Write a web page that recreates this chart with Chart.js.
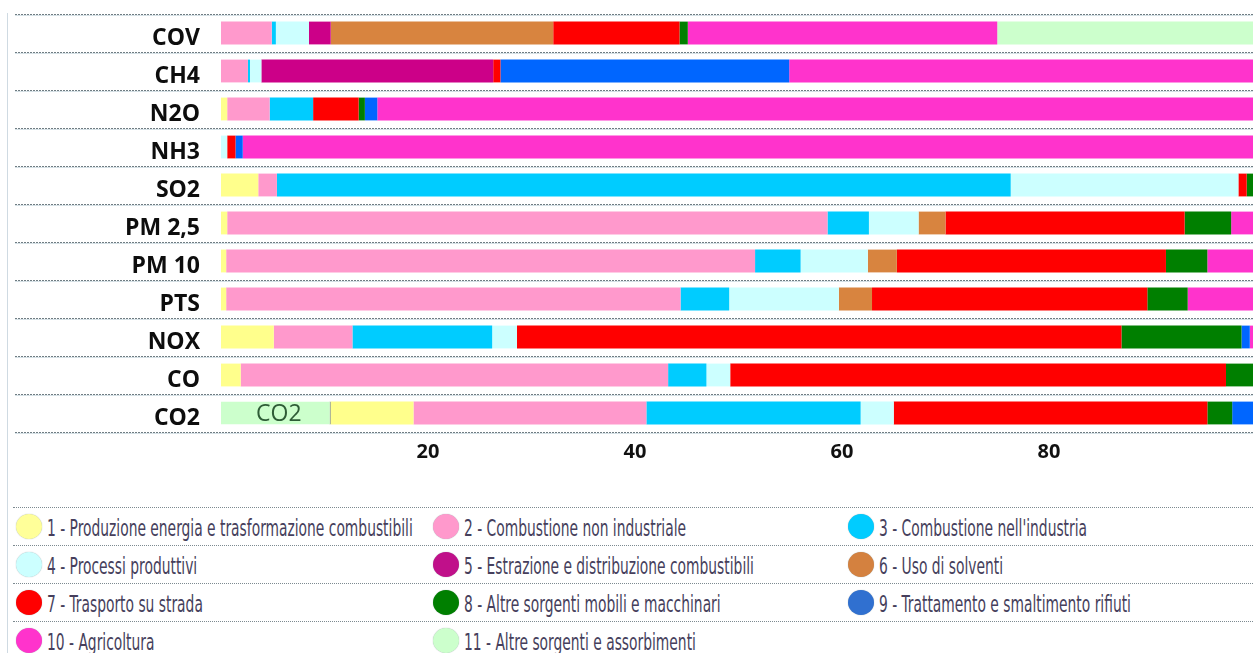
<!DOCTYPE html>
<html>
<head>
<meta charset="utf-8">
<script src="https://cdn.jsdelivr.net/npm/chart.js@4.4.0/dist/chart.umd.min.js"></script>
<style>
  html, body { margin: 0; padding: 0; background: #fff; overflow: hidden; width: 1253px; height: 653px; }
  #wrap { position: absolute; left: 0; top: 0; width: 1256px; height: 475px; }
  #frame { position: absolute; left: 7px; top: 13px; width: 1px; height: 640px; background: #cfdae2; }
  #legend { position: absolute; left: 13px; top: 507px; width: 1240px; }
  .row { display: flex; height: 37px; border-top: 1px dotted #7d8a90; align-items: center; }
  .item { display: flex; align-items: center; flex-shrink: 0; }
  .item:nth-child(1) { width: 417px; }
  .item:nth-child(2) { width: 415px; }
  .dot { flex-shrink: 0; width: 26px; height: 25px; border-radius: 50%; margin-left: 3px; margin-right: 5px; box-shadow: 0 0 1px #99a6aa; }
  .txt { display: inline-block; transform-origin: left center; font-family: 'DejaVu Sans Condensed', sans-serif; font-size: 23px; line-height: 26px; margin-top: 3px; color: #463f5c; white-space: nowrap; }
</style>
</head>
<body>
<div id="frame"></div>
<div id="wrap"><canvas id="chart" width="1256" height="475"></canvas></div>
<div id="legend"></div>
<script>
const categories = ['COV', 'CH4', 'N2O', 'NH3', 'SO2', 'PM 2,5', 'PM 10', 'PTS', 'NOX', 'CO', 'CO2'];
const tickLabels = [20, 40, 60, 80];

const sourceNames = [
    '1 - Produzione energia e trasformazione combustibili',
    '2 - Combustione non industriale',
    '3 - Combustione nell\'industria',
    '4 - Processi produttivi',
    '5 - Estrazione e distribuzione combustibili',
    '6 - Uso di solventi',
    '7 - Trasporto su strada',
    '8 - Altre sorgenti mobili e macchinari',
    '9 - Trattamento e smaltimento rifiuti',
    '10 - Agricoltura',
    '11 - Altre sorgenti e assorbimenti'
];
const sourceColors = ['#ffff8c', '#ff99cc', '#00ccff', '#ccffff', '#cc0088', '#d8843f',
    '#ff0000', '#007f00', '#0066ff', '#ff33cc', '#ccffcc'];
const legendColors = ['#ffff99', '#ff99cc', '#00ccff', '#ccffff', '#c0108a', '#d4813f',
    '#ff0000', '#007f00', '#3070d0', '#ff33cc', '#ccffcc'];

// percent share of each source, same order as categories
const energia       = [0, 0, 0.6, 0, 3.6, 0.6, 0.5, 0.5, 5.1, 1.9, 8.0];
const nonIndustr    = [4.9, 2.6, 4.1, 0, 1.8, 58.0, 51.1, 43.9, 7.6, 41.3, 22.5];
const industria     = [0.4, 0.2, 4.2, 0, 70.9, 4.0, 4.4, 4.7, 13.5, 3.7, 20.7];
const processi      = [3.2, 1.1, 0, 0.6, 22.0, 4.8, 6.5, 10.6, 2.4, 2.3, 3.2];
const estrazione    = [2.1, 22.4, 0, 0, 0, 0, 0, 0, 0, 0, 0];
const solventi      = [21.5, 0, 0, 0, 0, 2.6, 2.8, 3.2, 0, 0, 0];
const strada        = [12.2, 0.7, 4.4, 0.8, 0.8, 23.1, 26.0, 26.6, 58.4, 47.9, 30.3];
const mobili        = [0.8, 0, 0.6, 0, 0.9, 4.5, 4.0, 3.9, 11.6, 2.9, 2.4];
const rifiuti       = [0, 27.9, 1.2, 0.7, 0, 0, 0, 0, 0.8, 0, 2.3];
const agricoltura   = [29.9, 45.1, 84.9, 97.9, 0, 2.4, 4.7, 6.6, 0.6, 0, 0];
const altre         = [25.0, 0, 0, 0, 0, 0, 0, 0, 0, 0, 10.6];

const series = [energia, nonIndustr, industria, processi, estrazione, solventi,
    strada, mobili, rifiuti, agricoltura, altre];

// CO2 absorptions are drawn first in the bar, everything else at the end
let co2Index = categories.indexOf('CO2');
let altreFirst = altre.map((v, i) => i == co2Index ? v : 0);
let altreLast = altre.map((v, i) => i == co2Index ? 0 : v);

let datasets = [{
    label: 'co2first',
    data: altreFirst,
    backgroundColor: sourceColors[10],
    borderColor: '#5f6e52',
    borderWidth: { top: 0, bottom: 0, left: 0, right: 1 },
    borderSkipped: false
}];
for (var i = 0; i < series.length; i++) {
    datasets.push({
        label: sourceNames[i],
        data: i == 10 ? altreLast : series[i],
        backgroundColor: sourceColors[i],
        borderWidth: 0
    });
}

// dotted separators between rows
let rowLines = {
    id: 'rowLines',
    beforeDraw: chart => {
        let ctx = chart.ctx;
        let y = chart.scales.y;
        let band = (y.bottom - y.top) / categories.length;
        ctx.save();
        ctx.lineWidth = 1;
        for (var i = 0; i <= categories.length; i++) {
            let py = Math.round(y.top + i * band) + 0.5;
            ctx.setLineDash([]);
            ctx.strokeStyle = '#d6e1e6';
            ctx.beginPath();
            ctx.moveTo(15, py + 1);
            ctx.lineTo(chart.width, py + 1);
            ctx.stroke();
            ctx.setLineDash([2, 1]);
            ctx.strokeStyle = '#707d83';
            ctx.beginPath();
            ctx.moveTo(15, py);
            ctx.lineTo(chart.width, py);
            ctx.stroke();
        }
        ctx.restore();
    }
};

// the "CO2" text written inside the first segment
let co2Text = {
    id: 'co2Text',
    afterDatasetsDraw: chart => {
        let bar = chart.getDatasetMeta(0).data[co2Index];
        let ctx = chart.ctx;
        ctx.save();
        ctx.font = '23px "Open Sans"';
        ctx.fillStyle = '#2e5c36';
        ctx.textAlign = 'center';
        ctx.textBaseline = 'middle';
        ctx.fillText(categories[co2Index], (bar.base + bar.x) / 2 + 3, bar.y + 1);
        ctx.restore();
    }
};

let ctx = document.getElementById('chart').getContext('2d');
let myChart = new Chart(ctx, {
    type: 'bar',
    data: { labels: categories, datasets: datasets },
    plugins: [rowLines, co2Text],
    options: {
        indexAxis: 'y',
        responsive: false,
        animation: false,
        barPercentage: 0.6,
        categoryPercentage: 1,
        layout: { padding: { top: 14, left: 0, right: 0, bottom: 0 } },
        plugins: {
            legend: { display: false },
            tooltip: { enabled: false }
        },
        scales: {
            x: {
                stacked: true,
                min: 0,
                max: 100,
                grid: { display: false, drawTicks: false },
                border: { display: false },
                ticks: {
                    stepSize: 20,
                    padding: 8,
                    color: '#111',
                    font: { family: 'Open Sans', size: 20, weight: 'bold' },
                    callback: v => tickLabels.includes(v) ? v : ''
                },
                afterFit: scale => {
                    scale.height = 43;
                    scale.paddingLeft = 0;
                    scale.paddingRight = 0;
                }
            },
            y: {
                stacked: true,
                grid: { display: false, drawTicks: false },
                border: { display: false },
                ticks: {
                    padding: 21,
                    labelOffset: 5,
                    color: '#0d0d0d',
                    font: { family: 'Open Sans', size: 23, weight: 'bold' }
                },
                afterFit: scale => {
                    scale.width = 221;
                    scale.paddingTop = 0;
                    scale.paddingBottom = 0;
                }
            }
        }
    }
});

// legend in three columns
let legend = document.getElementById('legend');
let texts = [];
for (var r = 0; r < sourceNames.length; r += 3) {
    let row = document.createElement('div');
    row.className = 'row';
    for (var c = r; c < Math.min(r + 3, sourceNames.length); c++) {
        let item = document.createElement('div');
        item.className = 'item';
        let dot = document.createElement('span');
        dot.className = 'dot';
        dot.style.background = legendColors[c];
        let txt = document.createElement('span');
        txt.className = 'txt';
        txt.textContent = sourceNames[c];
        item.append(dot, txt);
        row.append(item);
        texts.push(txt);
    }
    legend.append(row);
}

// squeeze the legend font so the first label is as wide as in the original
let squeeze = 366 / texts[0].getBoundingClientRect().width;
texts.forEach(t => t.style.transform = 'scaleX(' + squeeze.toFixed(3) + ')');
</script>
</body>
</html>
